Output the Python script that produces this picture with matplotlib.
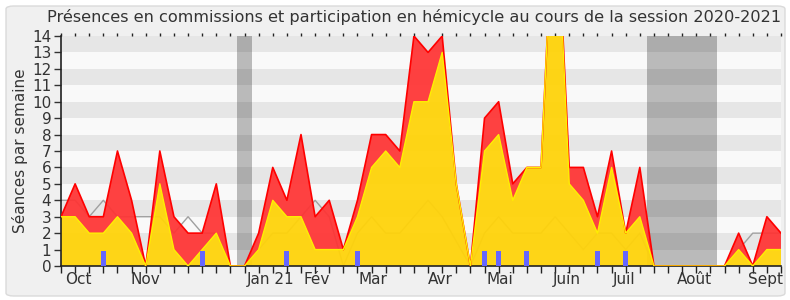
import matplotlib
matplotlib.use("Agg")
import matplotlib.pyplot as plt
from matplotlib.patches import FancyBboxPatch
import numpy as np

# ---- data (one value per week, session 2020-2021) ----
commission_total = [3,5,3,3,7,4,0,7,3,2,2,5, 0,0, 2,6,4,8,3,4,1,4,8,8,7,
                    14,13,14,5,0, 9,10,5,6,6,24,6,6,3,7,2,6, 0,0,0,0,0,0, 2,0,3,2]
hemicycle = [3,3,2,2,3,2,0,5,1,0,1,2, 0,0, 1,4,3,3,1,1,1,3,6,7,6,
             10,10,13,5,0, 7,8,4,6,6,24,5,4,2,6,2,3, 0,0,0,0,0,0, 1,0,1,1]
median_all = [4,4,3,4,3,3,3,3,2,3,2,2, 0,0, 1,2,2,3,4,3,0,2,3,2,2,
              3,4,3,1.5,0, 2,3,2,2,2,3,2,1,2,2,1,2, 0,0,0,0,0,0, 1,2,2,2]
question_weeks = [3,10,16,21,30,31,33,38,40]
question_vals = [0.9]*9
holiday_ranges = [(12.5, 13.5), (41.5, 46.5)]
month_labels = ["Oct","Nov","Déc","Jan 21","Fév","Mar","Avr","Mai","Juin","Juil","Août","Sept"]
month_pos = [1.2,5.95,11.0,14.85,18.1,22.1,26.9,31.1,35.8,39.9,44.9,49.9]

weeks = np.arange(len(commission_total))
red = np.array(commission_total, float)
yel = np.array(hemicycle, float)

fig = plt.figure(figsize=(7.9, 3.0), dpi=100)
fig.patch.set_facecolor("white")
box = FancyBboxPatch((6/790, 4/300), 779/790, 290/300,
                     boxstyle="round,pad=0,rounding_size=0.01",
                     transform=fig.transFigure, facecolor="#f0f0f0",
                     edgecolor="#dadada", linewidth=1.0, zorder=-10)
fig.patches.append(box)

ax = fig.add_axes([61/790, 34/300, 720/790, 230/300])
ax.set_facecolor("#f9f9f9")
ax.set_xlim(0, len(weeks)-1)
ax.set_ylim(0, 14)

# stripes
for k in range(1, 14, 2):
    ax.axhspan(k, k+1, color="#e6e6e6", lw=0, zorder=0)
# holidays
for a, b in holiday_ranges:
    ax.axvspan(a, b, color="black", alpha=0.25, lw=0, zorder=0.5)

ax.plot(weeks, median_all, color="#a0a0a0", lw=1, zorder=1)
ax.fill_between(weeks, yel, red, color="#ff3333", alpha=0.93, lw=0, zorder=2)
ax.fill_between(weeks, 0, yel, color="#ffd30a", alpha=0.95, lw=0, zorder=2)
ax.plot(weeks, red, color="#ff0000", lw=1.2, zorder=3)
ax.plot(weeks, yel, color="#ffee00", lw=1.0, zorder=3)
ax.bar(question_weeks, question_vals, width=0.35, color="#6666ff", zorder=4)

for s in ["top", "right"]:
    ax.spines[s].set_visible(False)
for s in ["left", "bottom"]:
    ax.spines[s].set_color("#222222")
    ax.spines[s].set_linewidth(1.2)

ax.set_yticks(range(0, 15))
ax.tick_params(axis="y", labelsize=11, colors="#333333", length=5, width=1, pad=2)
ax.set_xticks(weeks)
ax.set_xticklabels([])
ax.tick_params(axis="x", which="major", length=5, width=1, color="#222222",
               top=True, direction="out")
ax.set_xticks(month_pos, minor=True)
ax.set_xticklabels(month_labels, minor=True)
ax.tick_params(axis="x", which="minor", length=0, labelsize=11,
               labelcolor="#333333", pad=4)
# top ticks short
for t in ax.xaxis.get_major_ticks():
    t.tick2line.set_markersize(2)
    t.tick2line.set_color("#333333")

ax.set_ylabel("Séances par semaine", fontsize=11, color="#333333", labelpad=3)
fig.text(0.5*(45+783)/790, 1-17/300,
         "Présences en commissions et participation en hémicycle au cours de la session 2020-2021",
         ha="center", va="center", fontsize=11.6, color="#333333")

fig.savefig("out.png", dpi=100, facecolor=fig.get_facecolor())
